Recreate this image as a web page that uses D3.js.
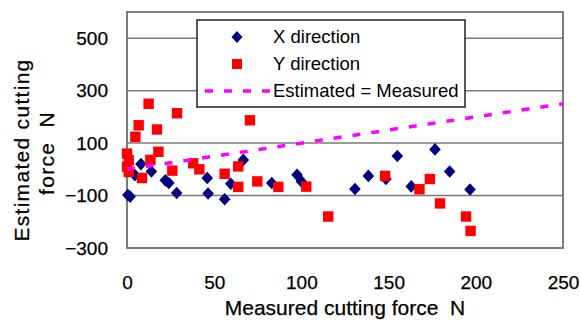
<!DOCTYPE html>
<html>
<head>
<meta charset="utf-8">
<script src="https://cdn.jsdelivr.net/npm/d3@7"></script>
<style>
  body { margin: 0; background: #fff; }
  text { font-family: "Liberation Sans", Arial, sans-serif; fill: #000; }
</style>
</head>
<body>
<div id="chart"></div>
<script>
// X direction points [measured, estimated]
const xDirection = [
  [0.5, -98], [1.8, -104], [8, 20], [14, -8], [4.5, -22], [22, -42], [24, -52],
  [28.5, -90], [46, -33], [46.5, -92], [56, -114], [59.5, -55], [66.7, 36],
  [83, -52], [97.5, -21], [100, -46], [130.7, -75], [138.4, -25], [148.5, -37],
  [155, 51], [163, -65], [176.6, 76], [185, -8], [196.7, -77]
];

// Y direction points [measured, estimated]
const yDirection = [
  [12.4, 250], [28.7, 214], [6.7, 168], [4.8, 124], [17.2, 152], [0, 60],
  [1, 35], [0, 10], [1, -10], [18, 67], [13.4, 36], [8.6, -33], [26, -5],
  [38, 23], [41.5, 0], [70.5, 187], [56, -17], [63.8, 11], [63.8, -67],
  [74.7, -46], [86.8, -67], [102.8, -66], [115.4, -180], [148, -25],
  [167.7, -76], [173.7, -37], [179.5, -130], [194.4, -180], [197, -235]
];

const idealLine = [[0, 0], [250, 250]];

const xTicks = [0, 50, 100, 150, 200, 250];
const yTicks = [-300, -100, 100, 300, 500];
const xDomain = [0, 250];
const yDomain = [-300, 600];

const legendItems = ["X direction", "Y direction", "Estimated = Measured"];

const W = 580, H = 320;
const margin = { top: 12, right: 17, bottom: 72, left: 127 };
const width = W - margin.left - margin.right;
const height = H - margin.top - margin.bottom;

const svg = d3.select("#chart").append("svg")
  .attr("width", W)
  .attr("height", H);

const g = svg.append("g")
  .attr("transform", `translate(${margin.left},${margin.top})`);

const x = d3.scaleLinear().domain(xDomain).range([0, width]);
const y = d3.scaleLinear().domain(yDomain).range([height, 0]);

// horizontal gridlines
g.selectAll(".grid")
  .data(yTicks.filter(d => d > yDomain[0]))
  .join("line")
  .attr("x1", 0).attr("x2", width)
  .attr("y1", d => y(d)).attr("y2", d => y(d))
  .attr("stroke", "#7a7a7a")
  .attr("stroke-width", 1.5);

// plot frame
g.append("rect")
  .attr("width", width).attr("height", height)
  .attr("fill", "none")
  .attr("stroke", "#6e6e6e")
  .attr("stroke-width", 1.8);

// axes (labels only)
const yAxis = g.append("g")
  .call(d3.axisLeft(y).tickValues(yTicks).tickSize(0).tickPadding(19).tickFormat(d3.format("d")));
yAxis.select(".domain").remove();
yAxis.selectAll("text").attr("font-size", 19).style("font-family", "Liberation Sans, Arial, sans-serif")
  .attr("stroke", "#000").attr("stroke-width", 0.25);

const xAxis = g.append("g")
  .attr("transform", `translate(0,${height})`)
  .call(d3.axisBottom(x).tickValues(xTicks).tickSize(0).tickPadding(28));
xAxis.select(".domain").remove();
xAxis.selectAll("text").attr("font-size", 19).style("font-family", "Liberation Sans, Arial, sans-serif")
  .attr("stroke", "#000").attr("stroke-width", 0.25);

// diamond and square markers
const diamond = (cx, cy, r) =>
  `M${cx},${cy - r - 0.5}L${cx + r},${cy}L${cx},${cy + r + 0.5}L${cx - r},${cy}Z`;

g.selectAll(".xpt")
  .data(xDirection)
  .join("path")
  .attr("d", d => diamond(x(d[0]), y(d[1]), 5.8))
  .attr("fill", "#000080");

g.selectAll(".ypt")
  .data(yDirection)
  .join("rect")
  .attr("x", d => x(d[0]) - 5.2)
  .attr("y", d => y(d[1]) - 5.2)
  .attr("width", 10.4).attr("height", 10.4)
  .attr("fill", "#ff0000");

g.append("path")
  .datum(idealLine)
  .attr("d", d3.line().x(d => x(d[0])).y(d => y(d[1])))
  .attr("stroke", "#ff00ff")
  .attr("stroke-width", 3.5)
  .attr("stroke-dasharray", "8,11")
  .attr("fill", "none");

// legend
const legend = svg.append("g").attr("transform", "translate(197,20)");
legend.append("rect")
  .attr("width", 268).attr("height", 87)
  .attr("fill", "#fff")
  .attr("stroke", "#222")
  .attr("stroke-width", 1.5);

const rowY = [17, 44, 71];
legend.append("path").attr("d", diamond(40, rowY[0], 5.5)).attr("fill", "#000080");
legend.append("rect").attr("x", 35).attr("y", rowY[1] - 5).attr("width", 10).attr("height", 10).attr("fill", "#ff0000");
legend.append("line")
  .attr("x1", 8).attr("x2", 76)
  .attr("y1", rowY[2]).attr("y2", rowY[2])
  .attr("stroke", "#ff00ff").attr("stroke-width", 3.5)
  .attr("stroke-dasharray", "8,11");

legend.selectAll(".lt")
  .data(legendItems)
  .join("text")
  .attr("x", 76)
  .attr("y", (d, i) => rowY[i])
  .attr("dy", "0.35em")
  .attr("font-size", 18.5)
  .text(d => d);

// axis titles
svg.append("text")
  .attr("x", 345).attr("y", 308)
  .attr("dy", "0.35em")
  .attr("text-anchor", "middle")
  .attr("font-size", 21)
  .attr("stroke", "#000").attr("stroke-width", 0.25)
  .text("Measured cutting force\u00a0\u00a0N");

svg.append("text")
  .attr("transform", "translate(22,150) rotate(-90)")
  .attr("dy", "0.35em")
  .attr("text-anchor", "middle")
  .attr("font-size", 21)
  .attr("letter-spacing", 1.3)
  .attr("stroke", "#000").attr("stroke-width", 0.25)
  .text("Estimated cutting");

svg.append("text")
  .attr("transform", "translate(47,153) rotate(-90)")
  .attr("dy", "0.35em")
  .attr("text-anchor", "middle")
  .attr("font-size", 21)
  .attr("letter-spacing", 1.3)
  .attr("stroke", "#000").attr("stroke-width", 0.25)
  .text("force\u00a0\u00a0N");
</script>
</body>
</html>
